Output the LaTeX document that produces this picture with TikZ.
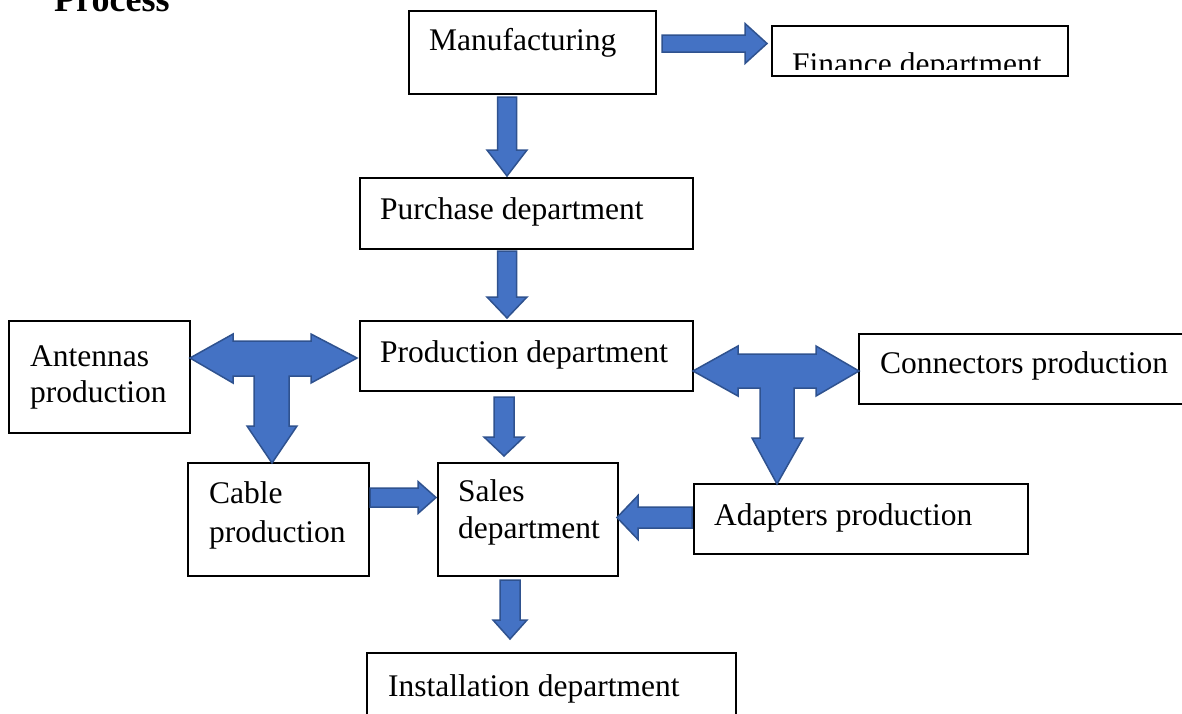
\documentclass[tikz,border=0pt]{standalone}
\usepackage{fontspec}
\setmainfont{Liberation Serif}
\definecolor{arrowblue}{HTML}{4472C4}
\definecolor{arrowedge}{HTML}{2F528F}
\newcommand\HBlk[6]{\draw[barrow] (#1,{#4-#5}) -- (#2,{#4-#5}) -- (#2,{#4-#6}) -- (#3,#4) -- (#2,{#4+#6}) -- (#2,{#4+#5}) -- (#1,{#4+#5}) -- cycle;}
\newcommand\VBlk[6]{\draw[barrow] ({#1-#5},#2) -- ({#1-#5},#3) -- ({#1-#6},#3) -- (#1,#4) -- ({#1+#6},#3) -- ({#1+#5},#3) -- ({#1+#5},#2) -- cycle;}
\begin{document}
\begin{tikzpicture}[x=1pt,y=-1pt,
  box/.style={draw=black, line width=1.2pt, inner sep=0pt},
  txt/.style={anchor=base west, inner sep=0pt, font=\fontsize{31.5}{38}\selectfont},
  barrow/.style={fill=arrowblue, draw=arrowedge, line width=1.5pt, line join=miter}]
\clip (0,0) rectangle (1182,713);
\fill[white] (0,0) rectangle (1182,713);

% title
\node[anchor=base west, inner sep=0pt, font=\fontsize{36}{40}\selectfont\bfseries] (title) at (54,11) {Process};

% boxes
\node[box, minimum width=247pt, minimum height=83pt] (man) at (532.5,52.5) {};
\node[box, minimum width=296pt, minimum height=50pt] (fin) at (920,51) {};
\node[box, minimum width=333pt, minimum height=71pt] (pur) at (526.5,213.5) {};
\node[box, minimum width=333pt, minimum height=70pt] (prod) at (526.5,356) {};
\node[box, minimum width=181pt, minimum height=112pt] (ant) at (99.5,377) {};
\node[box, minimum width=341pt, minimum height=70pt] (con) at (1029.5,369) {};
\node[box, minimum width=181pt, minimum height=113pt] (cab) at (278.5,519.5) {};
\node[box, minimum width=180pt, minimum height=113pt] (sal) at (528,519.5) {};
\node[box, minimum width=334pt, minimum height=70pt] (ada) at (861,519) {};
\node[box, minimum width=369pt, minimum height=77pt] (ins) at (551.5,691.5) {};

% texts
\node[txt] (mant) at (429,50) {Manufacturing};
\begin{scope}
\clip (772,20) rectangle (1068,69);
\node[txt] (fint) at (792,74) {Finance department};
\end{scope}
\node[txt] (purt) at (380,219) {Purchase department};
\node[txt] (prodt) at (380,362) {Production department};
\node[txt] (antt1) at (30,366) {Antennas};
\node[txt] (antt2) at (30,402) {production};
\node[txt] (cont) at (880,373) {Connectors production};
\node[txt] (cabt1) at (209,503) {Cable};
\node[txt] (cabt2) at (209,542) {production};
\node[txt] (salt1) at (458,501) {Sales};
\node[txt] (salt2) at (458,538) {department};
\node[txt] (adat) at (714,525) {Adapters production};
\node[txt] (inst) at (388,696) {Installation department};

% block arrows
\HBlk{662}{745}{767}{43.5}{8.5}{20}
\VBlk{507}{97}{150}{176}{9.5}{20}
\VBlk{507}{251}{297}{318}{9.5}{20}
\VBlk{504}{397}{437}{456}{10}{20}
\VBlk{510}{580}{620}{639}{10}{17}
\HBlk{370}{418}{436}{497.5}{9.5}{16}
\HBlk{692}{638}{617}{517.5}{10.5}{22}

% T-shaped arrows
\draw[barrow] (190,358) -- (233,334) -- (233,341) -- (311,341) -- (311,334) -- (357,358)
  -- (311,383) -- (311,376) -- (289,376) -- (289,426) -- (297,426) -- (272,463)
  -- (247,426) -- (254,426) -- (254,376) -- (233,376) -- (233,383) -- cycle;
\draw[barrow] (693,371) -- (738,346) -- (738,354) -- (816,354) -- (816,346) -- (859,371)
  -- (816,396) -- (816,388) -- (794,388) -- (794,438) -- (803,438) -- (777,484)
  -- (752,438) -- (760,438) -- (760,388) -- (738,388) -- (738,396) -- cycle;
\end{tikzpicture}
\end{document}
